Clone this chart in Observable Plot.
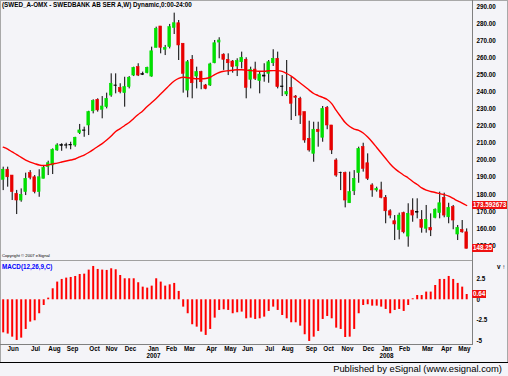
<!DOCTYPE html>
<html><head><meta charset="utf-8">
<script src="https://cdn.jsdelivr.net/npm/d3@7"></script>
<script src="https://cdn.jsdelivr.net/npm/@observablehq/plot@0.6"></script>
<style>
body{margin:0;background:#fff;}
#c{position:relative;width:508px;height:376px;background:#f4f4f8;overflow:hidden;font-family:"Liberation Sans",Arial,sans-serif;}
.abs{position:absolute;white-space:nowrap;}
.ln{position:absolute;}
#c svg{position:absolute;left:0;overflow:visible;}
</style></head><body><div id="c"></div>
<script>
// Weekly candles, Jun 2006 - May 2008
const openP=[188.6,194.5,191.1,180.4,176.5,181.4,192.5,190.1,181.4,189.2,196.0,197.0,205.8,208.5,208.8,208.7,208.7,215.9,217.3,220.4,228.7,235.4,229.6,231.1,237.9,243.8,242.4,239.3,242.8,249.6,254.5,250.0,251.0,249.0,265.8,278.3,264.7,266.2,277.5,280.2,268.2,240.8,258.8,249.0,251.6,243.8,243.8,256.8,268.9,261.8,258.8,257.8,254.9,257.4,258.8,247.1,253.1,246.3,249.6,250.6,256.8,259.4,243.2,238.5,242.4,237.3,236.0,228.2,212.6,203.8,217.9,213.2,230.7,220.4,199.9,192.7,192.5,174.9,181.9,192.5,207.7,198.3,185.3,182.4,182.4,178.1,170.2,164.4,159.3,169.1,155.4,170.6,169.9,165.2,160.0,160.5,166.4,169.1,178.1,166.7,172.6,156.6,159.3,157.9];
const highP=[196.0,196.0,191.1,182.4,183.3,192.5,194.0,191.1,194.5,197.0,199.5,206.7,209.7,209.7,210.0,210.6,213.5,221.0,219.4,228.7,235.4,236.0,237.3,239.3,250.6,250.6,244.8,248.6,249.0,254.5,256.5,251.6,254.5,266.2,277.9,278.3,267.2,279.5,286.1,281.8,268.2,258.4,261.3,254.5,252.1,244.4,256.8,270.1,271.7,262.3,262.3,258.4,259.4,263.3,260.0,254.5,257.4,251.6,256.5,258.4,264.7,263.3,249.6,258.4,248.6,237.9,236.9,228.2,222.9,222.3,222.3,231.5,231.5,220.4,200.9,193.1,193.1,193.1,194.0,207.7,210.0,203.8,186.3,184.3,187.2,179.4,171.1,167.7,169.1,169.7,174.6,177.5,177.5,170.6,173.6,168.7,171.6,181.4,180.8,174.9,173.6,161.9,164.8,159.9];
const lowP=[182.3,184.3,176.5,168.3,175.5,179.4,188.6,180.4,178.4,189.2,191.1,191.7,205.3,205.3,206.7,206.2,207.7,215.1,213.5,214.5,227.2,228.2,224.3,230.1,236.9,238.9,238.9,231.1,241.8,249.0,249.0,249.6,250.6,248.6,265.8,262.3,261.3,265.2,273.6,258.4,239.3,236.6,236.0,241.8,241.3,241.3,243.2,256.5,259.4,252.6,249.6,251.0,249.0,253.5,236.0,241.8,246.7,238.9,245.7,245.1,254.9,241.8,237.3,237.3,223.3,225.6,221.0,210.0,204.8,198.9,207.7,210.6,217.9,203.4,190.1,182.3,172.2,174.9,179.4,186.6,193.1,188.2,178.4,181.4,177.5,162.9,165.8,153.1,153.5,157.0,149.2,163.8,165.8,157.4,157.4,155.4,165.8,165.8,166.4,162.9,159.4,153.1,157.4,148.25];
const closeP=[194.5,190.1,181.4,176.5,179.8,189.2,189.8,181.4,190.1,195.6,198.3,206.2,208.7,208.9,208.6,209.0,213.2,217.5,217.5,228.2,234.6,229.2,231.5,236.0,244.8,243.6,239.9,242.8,248.3,254.1,249.6,250.4,254.1,263.8,276.9,265.8,265.8,277.9,280.2,267.2,250.6,257.4,245.1,251.6,245.7,241.8,256.1,268.5,270.1,258.8,256.8,254.5,258.0,260.0,242.4,252.9,247.7,250.2,249.0,257.4,259.4,242.8,242.8,239.9,233.1,236.6,226.2,211.6,205.8,217.9,216.5,230.1,220.4,205.8,191.1,192.5,176.5,181.4,189.2,206.7,195.0,189.2,182.4,183.3,178.1,170.2,167.7,162.5,167.7,157.9,168.7,167.7,169.4,160.5,165.2,159.0,171.1,174.9,167.7,172.2,164.8,160.5,157.9,148.25];
// moving average
const maVal=[207.7,206.6,204.9,203.4,201.7,200.2,199.0,198.1,197.3,197.0,197.3,197.9,198.4,199.0,199.6,200.2,200.8,202.0,203.1,204.6,206.3,208.1,209.8,211.9,214.2,216.9,218.6,220.4,222.1,224.5,226.8,228.9,231.5,233.8,236.2,238.8,241.4,244.1,246.4,247.9,248.6,248.3,248.0,247.7,247.7,247.9,248.6,250.2,251.4,252.1,252.4,252.7,253.0,253.0,252.8,252.5,252.3,252.1,252.1,252.4,252.5,252.5,252.0,250.8,249.3,247.3,245.2,243.2,241.1,239.1,237.9,236.8,235.6,233.2,229.2,225.6,222.1,219.8,218.3,217.5,216.0,213.6,210.7,207.5,204.3,201.1,197.9,195.2,193.2,191.3,189.7,187.6,185.9,183.9,182.6,181.8,181.2,180.5,179.9,179.1,177.7,176.3,175.0,173.59];
// MACD(12,26,9) histogram
const macdVal=[-4.0,-4.15,-4.52,-4.92,-4.64,-3.59,-2.70,-2.54,-1.69,-0.69,0.20,1.33,2.14,2.46,2.62,2.70,2.82,3.06,3.10,3.59,4.03,3.67,3.59,3.55,3.75,3.63,2.94,2.54,2.54,2.54,2.06,1.53,1.41,1.65,2.54,2.14,1.65,1.81,1.98,1.01,-0.89,-1.69,-3.02,-3.31,-3.91,-4.31,-3.59,-2.22,-1.29,-1.21,-1.29,-1.69,-1.57,-1.49,-2.30,-2.22,-2.38,-2.30,-2.10,-1.41,-0.89,-1.29,-1.90,-2.30,-2.78,-2.78,-3.19,-4.23,-5.04,-4.52,-3.83,-2.38,-2.02,-2.30,-3.43,-3.59,-4.56,-4.52,-3.59,-1.69,-0.69,-0.60,-0.77,-0.77,-0.89,-1.17,-1.69,-1.29,-1.17,-1.41,-0.69,0.12,0.52,0.52,0.93,0.93,1.73,2.46,2.46,2.82,2.46,1.98,1.53,0.64];
const priceTicks=[150,160,170,180,190,200,210,220,230,240,250,260,270,280,290];
const macdTicks=[2.5,0,-2.5,-5];
const monthPos=[2.22,7.18,11.4,15.4,20.3,24.1,28.3,33.4,37.4,41.4,46.3,50.5,54.3,59.2,63.2,68.5,72.3,76.5,81.2,85.2,89.2,94.3,98.5,102.5];
const monthLbl=["Jun","Jul","Aug","Sep","Oct","Nov","Dec","Jan","Feb","Mar","Apr","May","Jun","Jul","Aug","Sep","Oct","Nov","Dec","Jan","Feb","Mar","Apr","May"];
const yearPos=[33.4,85.2];
const yearLbl=["2007","2008"];
const lastMA=173.592673, lastClose=148.25, lastMACD=0.64;
const titleText="(SWED_A-OMX - SWEDBANK AB SER A,W) Dynamic,0:00-24:00";

const FONT='"Liberation Sans",Arial,sans-serif';
const W=508, MR=36;
const xDomain=[-0.6,104.29];
const bars=openP.map((o,i)=>({i,o,h:highP[i],l:lowP[i],c:closeP[i]}));
const col=d=>Math.abs(d.c-d.o)<0.6?"#000":(d.c>d.o?"#00e000":"#e80000");

const c=document.getElementById("c");
const price=Plot.plot({
  width:W,height:259,marginLeft:0,marginRight:MR,marginTop:0,marginBottom:0,
  x:{domain:xDomain,axis:null},
  y:{domain:[142,293.5],axis:null},
  color:{type:"identity"},
  style:{background:"transparent",fontFamily:FONT},
  marks:[
    Plot.ruleX(bars,{x:"i",y1:"l",y2:"h",stroke:"#000",strokeWidth:1}),
    Plot.rect(bars,{x1:d=>d.i-0.3,x2:d=>d.i+0.3,y1:"o",y2:"c",fill:col,stroke:col,strokeWidth:0.6}),
    Plot.line(maVal.map((v,i)=>({i,v})),{x:"i",y:"v",stroke:"#ff0000",strokeWidth:1.4,curve:"monotone-x"}),
    Plot.axisY(priceTicks,{anchor:"right",tickSize:0,tickPadding:4,tickFormat:d=>d.toFixed(2),fontSize:6.3,fontWeight:"bold",fill:"#000",textAnchor:"start"})
  ]
});
price.style.top="0px";
c.appendChild(price);

const macdData=macdVal.map((v,i)=>({i,v}));
const mchart=Plot.plot({
  width:W,height:101,marginLeft:0,marginRight:MR,marginTop:0,marginBottom:17,
  x:{domain:xDomain,axis:null},
  y:{domain:[-5.53,4.63],axis:null},
  style:{background:"transparent",fontFamily:FONT},
  marks:[
    Plot.ruleX(macdData,{x:"i",y1:0,y2:"v",stroke:"#ff0000",strokeWidth:2}),
    Plot.axisY(macdTicks,{anchor:"right",tickSize:0,tickPadding:4,tickFormat:d=>String(d),fontSize:6.3,fontWeight:"bold",fill:"#000",textAnchor:"start"}),
    Plot.axisX(monthPos,{anchor:"bottom",tickSize:0,tickPadding:1,tickFormat:d=>monthLbl[monthPos.indexOf(d)],fontSize:6.3,fontWeight:"bold",fill:"#000"}),
    Plot.text(yearPos.map((p,k)=>({p,t:yearLbl[k]})),{x:"p",text:"t",frameAnchor:"bottom",dy:12.7,fontSize:6.3,fontWeight:"bold",fill:"#000"})
  ]
});
mchart.style.top="261px";
c.appendChild(mchart);

function line(l,t,w,h,bg){const d=document.createElement("div");d.className="ln";Object.assign(d.style,{left:l+"px",top:t+"px",width:w+"px",height:h+"px",background:bg});c.appendChild(d);}
function txt(s,l,t,size,css){const d=document.createElement("div");d.className="abs";d.textContent=s;Object.assign(d.style,{left:l+"px",top:t+"px",fontSize:size+"px",lineHeight:size+"px"},css||{});c.appendChild(d);return d;}

line(0,0,508,1,"#a8a8a8");
line(0,0,1,362,"#a8a8a8");
line(507,0,1,362,"#a8a8a8");
line(472,0,1,345,"#808080");
line(0,260,472,1,"#a0a0a0");
line(0,344,472,1,"#808080");
line(0,362,508,1,"#000");

txt(titleText,2,1.8,6.3,{fontWeight:"bold",color:"#000"});
txt("Copyright \u00a9 2007 eSignal",2,253.5,4.2,{color:"#000"});
txt("MACD(12,26,9,C)",2,264,6.3,{fontWeight:"bold",color:"#0000ff"});
txt("Published by eSignal (www.esignal.com)",0,364,9.4,{color:"#000",left:"auto",right:"6px"});

function box(s,yc){const d=txt(s,472,yc-4,6.3,{fontWeight:"bold",color:"#fff",background:"#ee1111",padding:"0.8px 1px",lineHeight:"6.4px"});return d;}
box(lastMA.toFixed(6),price.scale("y").apply(lastMA));
box(lastClose.toFixed(2),price.scale("y").apply(lastClose));
box(lastMACD.toFixed(2),261+mchart.scale("y").apply(lastMACD));
</script></body></html>
